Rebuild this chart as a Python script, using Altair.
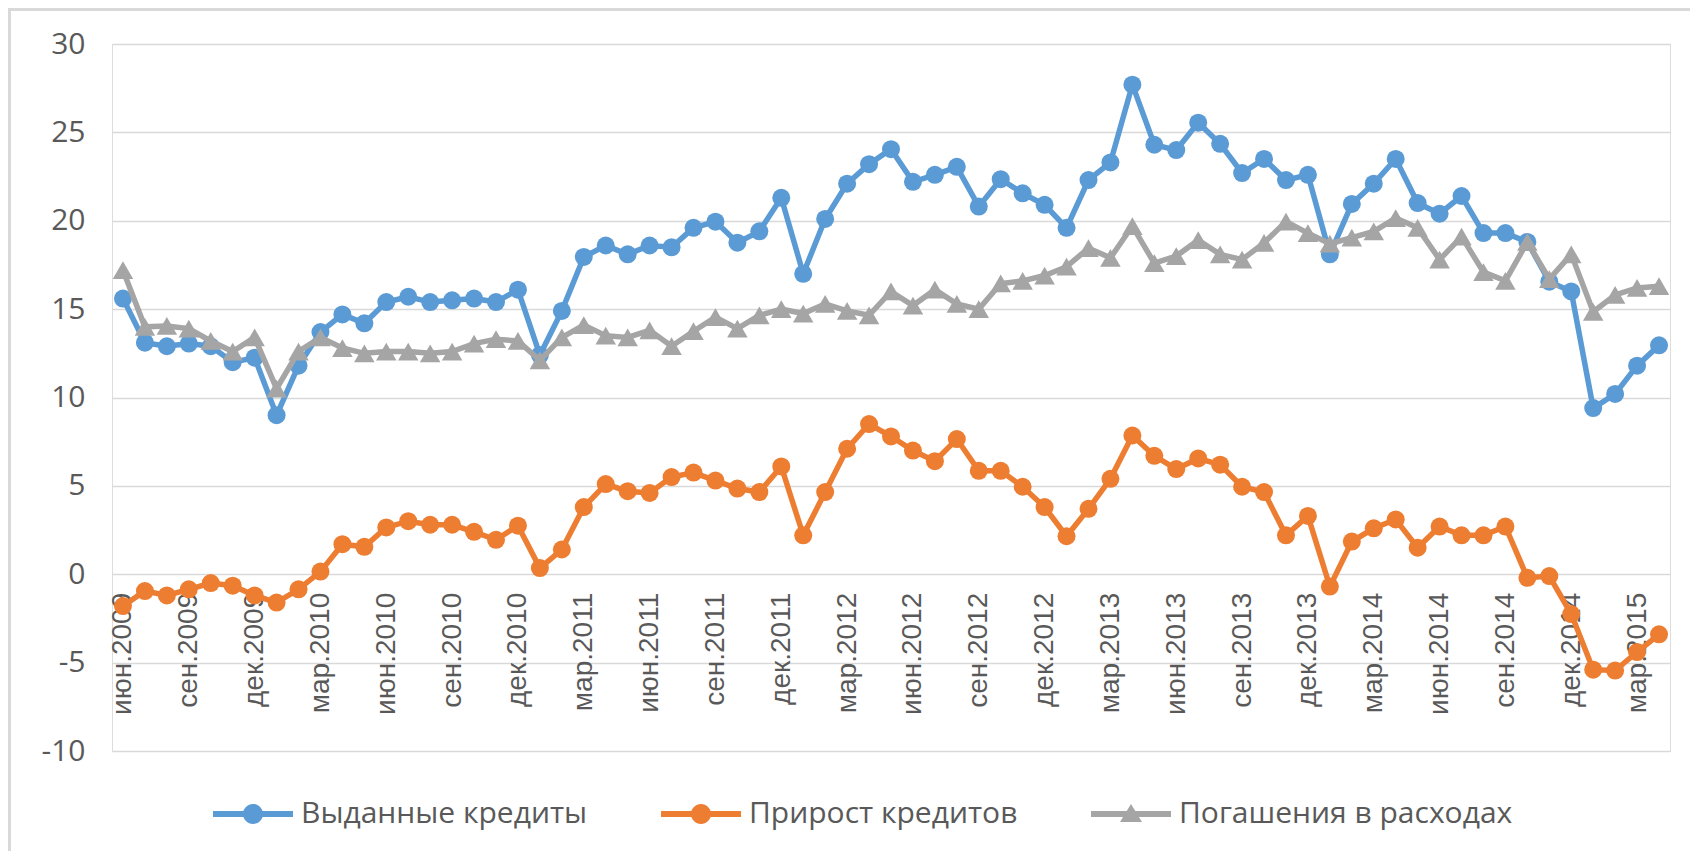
import altair as alt
import pandas as pd

MONTH_NAMES = ["янв", "фев", "мар", "апр", "май", "июн", "июл", "авг", "сен", "окт", "ноя", "дек"]
# June 2009 .. April 2015
MONTHS = []
for _y in range(2009, 2016):
    for _m in range(12):
        if (_y == 2009 and _m < 5) or (_y == 2015 and _m > 3):
            continue
        MONTHS.append(f"{MONTH_NAMES[_m]}.{_y}")
TICK_LABELS = MONTHS[::3]

SERIES = ["Выданные кредиты", "Прирост кредитов", "Погашения в расходах"]
COLORS = ["#5B9BD5", "#ED7D31", "#A5A5A5"]

ISSUED = [15.6, 13.1, 12.9, 13.05, 12.9, 12.0, 12.25, 9.0, 11.8, 13.7,
          14.7, 14.2, 15.4, 15.7, 15.4, 15.5, 15.6, 15.4, 16.1, 12.4,
          14.9, 17.95, 18.6, 18.1, 18.6, 18.5, 19.6, 19.95, 18.76, 19.4,
          21.3, 17.0, 20.1, 22.1, 23.2, 24.05, 22.2, 22.6, 23.05, 20.8,
          22.35, 21.55, 20.9, 19.6, 22.3, 23.3, 27.7, 24.3, 24.0, 25.55,
          24.35, 22.7, 23.5, 22.3, 22.6, 18.1, 20.95, 22.1, 23.5, 21.0,
          20.4, 21.4, 19.3, 19.3, 18.8, 16.55, 16.0, 9.4, 10.2, 11.8, 12.95]

GROWTH = [-1.8, -0.95, -1.2, -0.85, -0.5, -0.65, -1.2, -1.6, -0.85, 0.15,
          1.7, 1.55, 2.65, 3.0, 2.8, 2.8, 2.4, 1.95, 2.75, 0.35,
          1.4, 3.8, 5.1, 4.7, 4.6, 5.5, 5.75, 5.3, 4.85, 4.65,
          6.1, 2.2, 4.65, 7.1, 8.5, 7.8, 7.0, 6.4, 7.65, 5.85,
          5.85, 4.95, 3.8, 2.15, 3.7, 5.4, 7.85, 6.7, 5.95, 6.55,
          6.2, 4.95, 4.65, 2.2, 3.3, -0.7, 1.85, 2.6, 3.1, 1.5,
          2.7, 2.2, 2.2, 2.7, -0.2, -0.1, -2.25, -5.4, -5.45, -4.4, -3.4]

REPAID = [17.2, 14.0, 14.05, 13.9, 13.2, 12.6, 13.4, 10.5, 12.6, 13.4,
          12.8, 12.5, 12.6, 12.6, 12.5, 12.6, 13.05, 13.3, 13.2, 12.1,
          13.4, 14.1, 13.5, 13.4, 13.8, 12.9, 13.75, 14.55, 13.9, 14.65,
          15.0, 14.75, 15.3, 14.9, 14.65, 16.0, 15.2, 16.1, 15.3, 15.0,
          16.45, 16.6, 16.9, 17.4, 18.45, 17.9, 19.7, 17.6, 18.0, 18.9,
          18.1, 17.8, 18.75, 19.95, 19.3, 18.7, 19.05, 19.4, 20.15, 19.6,
          17.8, 19.1, 17.1, 16.6, 18.8, 16.7, 18.1, 14.85, 15.8, 16.2, 16.3]

rows = []
for name, vals in zip(SERIES, [ISSUED, GROWTH, REPAID]):
    for i, (m, v) in enumerate(zip(MONTHS, vals)):
        rows.append({"month": m, "idx": i, "series": name, "value": v})
df = pd.DataFrame(rows)

FONT = "Open Sans"
TXT = "#595959"
FRAME = "#D9D9D9"

# legend symbols: line with marker (unit = sqrt(size)/2 px)
CIRC = "M-1,-0.3H7V0.3H-1Z M4,0A1,1,0,1,1,2,0A1,1,0,1,1,4,0Z"
TRI = "M-1,-0.3H7V0.3H-1Z M3,-1L4.1,0.8L1.9,0.8Z"

x_enc = alt.X("month:O", sort=MONTHS, scale=alt.Scale(type="point", padding=0.5),
              axis=alt.Axis(values=TICK_LABELS, labelAngle=-90, title=None,
                            domain=False, ticks=False, tickSize=0, grid=False,
                            labelFont="Liberation Sans", labelFontSize=28,
                            labelColor=TXT, labelPadding=18, offset=-176.75,
                            labelOverlap=False))
y_enc = alt.Y("value:Q", scale=alt.Scale(domain=[-10, 30], nice=False),
              axis=alt.Axis(values=list(range(-10, 31, 5)), title=None,
                            domain=False, ticks=False, tickSize=0,
                            gridColor=FRAME, gridWidth=1.5,
                            labelExpr="datum.value + ''",
                            labelFont=FONT, labelFontSize=30, labelColor=TXT,
                            labelPadding=27))

fill_scale = alt.Scale(domain=SERIES, range=COLORS)
legend = alt.Legend(
    title=None, orient="none", legendX=96, legendY=755, direction="horizontal",
    columns=3, labelFont=FONT, labelFontSize=30, labelColor=TXT,
    labelLimit=800, symbolSize=400, symbolOpacity=1, symbolStrokeWidth=0,
    symbolType={"expr": "datum.value === 'Погашения в расходах' ? '" + TRI + "' : '" + CIRC + "'"},
    labelOffset=63, columnPadding=68,
)

layers = []
for name, col in zip(SERIES, COLORS):
    base = alt.Chart(df).transform_filter(alt.datum.series == name)
    line = base.mark_line(strokeWidth=5.5, color=col).encode(x=x_enc, y=y_enc)
    shape = "triangle-up" if name == SERIES[2] else "circle"
    size = 420 if name == SERIES[2] else 324
    pts = base.mark_point(shape=shape, filled=True, size=size, opacity=1,
                          strokeWidth=0).encode(
        x=x_enc, y=y_enc,
        fill=alt.Fill("series:N", scale=fill_scale, legend=legend),
    )
    layers += [line, pts]

# chart-area frame (top and left edges, as in the source picture)
frame_src = alt.Chart(pd.DataFrame({"k": [0]}))
frame_top = frame_src.mark_rule(color=FRAME, strokeWidth=3).encode(
    x=alt.value(-104), x2=alt.value(1578), y=alt.value(-34.5))
frame_left = frame_src.mark_rule(color=FRAME, strokeWidth=3).encode(
    x=alt.value(-102.5), y=alt.value(-36), y2=alt.value(807))

chart = alt.layer(frame_top, frame_left, *layers).properties(
    width=1558, height=707,
    autosize=alt.AutoSizeParams(type="none"),
    padding={"left": 104, "top": 36, "right": 20, "bottom": 100},
).configure_view(stroke=None).configure(background="white")

chart.save("out.html", embed_options={"renderer": "svg", "actions": False})
